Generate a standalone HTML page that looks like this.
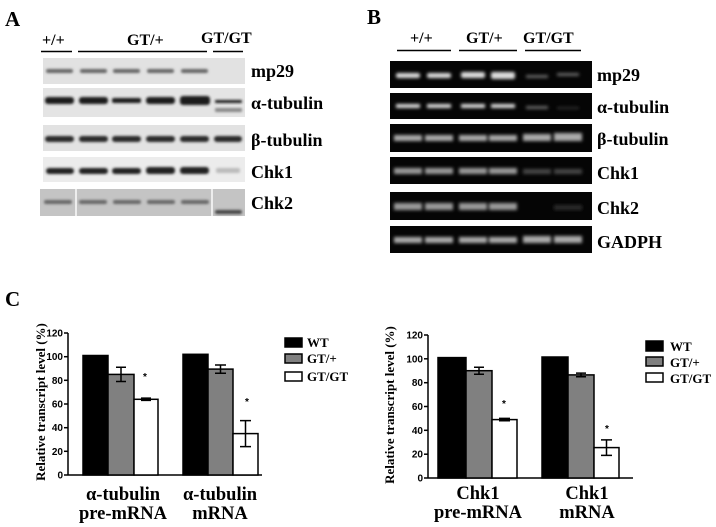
<!DOCTYPE html>
<html><head><meta charset="utf-8"><style>
html,body{margin:0;padding:0;background:#fff;}
svg{display:block;}
.s{font-family:"Liberation Serif",serif;font-weight:bold;fill:#000;}
.a{font-family:"Liberation Sans",sans-serif;font-weight:bold;fill:#000;font-size:10px;}
</style></head><body>
<svg width="716" height="527" viewBox="0 0 716 527" xmlns="http://www.w3.org/2000/svg">
<defs>
<filter id="b1" x="-20%" y="-50%" width="140%" height="200%"><feGaussianBlur stdDeviation="1.2"/></filter>
<filter id="b2" x="-20%" y="-50%" width="140%" height="200%"><feGaussianBlur stdDeviation="1.6"/></filter>
</defs>
<!-- Panel A -->
<text class="s" x="5" y="26" font-size="21">A</text>
<text class="s" x="42" y="45" font-size="16">+/+</text>
<text class="s" x="127" y="45" font-size="16">GT/+</text>
<text class="s" x="201" y="43" font-size="16">GT/GT</text>
<g stroke="#000" stroke-width="1.5"><line x1="41" y1="51.5" x2="72" y2="51.5"/><line x1="78" y1="51.5" x2="207" y2="51.5"/><line x1="213" y1="51.5" x2="243" y2="51.5"/></g>
<rect x="43" y="58" width="202" height="26" fill="#e2e2e2"/>
<rect x="43" y="88" width="202" height="29" fill="#e4e4e4"/>
<rect x="43" y="125" width="202" height="26" fill="#e2e2e2"/>
<rect x="43" y="157" width="202" height="25" fill="#ececec"/>
<rect x="40" y="189" width="205" height="27" fill="#c4c4c4"/>
<g filter="url(#b1)">
<g fill="#666"><rect x="46" y="69" width="27" height="4" rx="2"/><rect x="80" y="69" width="27" height="4" rx="2"/><rect x="113" y="69" width="27" height="4" rx="2"/><rect x="147" y="69" width="27" height="4" rx="2"/><rect x="181" y="69" width="27" height="4" rx="2"/></g>
<g fill="#1a1a1a"><rect x="45" y="97" width="29" height="7" rx="3"/><rect x="79" y="97" width="29" height="7" rx="3"/><rect x="112" y="98" width="29" height="5" rx="2"/><rect x="146" y="97" width="29" height="7" rx="3"/><rect x="180" y="96" width="30" height="9" rx="3"/><rect x="215" y="100" width="27" height="3" rx="1"/></g>
<rect x="215" y="108" width="27" height="4" rx="1" fill="#888"/>
<g fill="#2a2a2a"><rect x="45" y="136" width="29" height="6" rx="3"/><rect x="79" y="136" width="29" height="6" rx="3"/><rect x="112" y="136" width="29" height="6" rx="3"/><rect x="146" y="136" width="29" height="6" rx="3"/><rect x="180" y="136" width="29" height="6" rx="3"/><rect x="214" y="136" width="28" height="6" rx="3"/></g>
<g fill="#222"><rect x="46" y="168" width="28" height="6" rx="3"/><rect x="79" y="168" width="29" height="6" rx="3"/><rect x="112" y="168" width="29" height="6" rx="3"/><rect x="146" y="167" width="29" height="7" rx="3"/><rect x="180" y="167" width="29" height="7" rx="3"/></g>
<rect x="216" y="168" width="24" height="5" rx="2" fill="#bbb"/>
<g fill="#666"><rect x="44" y="200" width="28" height="4" rx="2"/><rect x="79" y="200" width="28" height="4" rx="2"/><rect x="113" y="200" width="28" height="4" rx="2"/><rect x="147" y="200" width="28" height="4" rx="2"/><rect x="181" y="200" width="28" height="4" rx="2"/><rect x="215" y="210" width="27" height="4" rx="2" fill="#444"/></g>
</g>
<g fill="#fff" opacity="0.7"><rect x="75" y="189" width="2" height="27"/><rect x="211" y="189" width="2" height="27"/></g>
<text class="s" x="251" y="77" font-size="18">mp29</text>
<text class="s" x="251" y="109" font-size="18">α-tubulin</text>
<text class="s" x="251" y="146" font-size="18">β-tubulin</text>
<text class="s" x="251" y="178" font-size="18">Chk1</text>
<text class="s" x="251" y="209" font-size="18">Chk2</text>
<!-- Panel B -->
<text class="s" x="367" y="24" font-size="21">B</text>
<text class="s" x="410" y="43" font-size="16">+/+</text>
<text class="s" x="466" y="43" font-size="16">GT/+</text>
<text class="s" x="523" y="43" font-size="16">GT/GT</text>
<g stroke="#000" stroke-width="1.5"><line x1="397" y1="50.5" x2="451" y2="50.5"/><line x1="459" y1="50.5" x2="517" y2="50.5"/><line x1="525" y1="50.5" x2="581" y2="50.5"/></g>
<g fill="#050505"><rect x="390" y="61" width="202" height="27"/><rect x="390" y="93" width="202" height="26"/><rect x="390" y="124" width="202" height="28"/><rect x="390" y="157" width="202" height="27"/><rect x="390" y="192" width="202" height="28"/><rect x="390" y="226" width="202" height="27"/></g>
<g filter="url(#b2)">
<g fill="#ddd"><rect x="396" y="73" width="24" height="5" rx="2"/><rect x="427" y="73" width="24" height="5" rx="2"/><rect x="461" y="72" width="24" height="6" rx="2"/><rect x="491" y="72" width="24" height="7" rx="2"/></g>
<g fill="#666"><rect x="526" y="75" width="22" height="3"/><rect x="557" y="73" width="22" height="3"/></g>
<g fill="#ddd"><rect x="396" y="104" width="24" height="4"/><rect x="427" y="104" width="24" height="4"/><rect x="461" y="104" width="24" height="4"/><rect x="491" y="104" width="24" height="4"/></g>
<g fill="#666"><rect x="526" y="106" width="22" height="3"/></g><rect x="557" y="107" width="22" height="2" fill="#333"/>
<g fill="#aaa"><rect x="394" y="135" width="28" height="6"/><rect x="425" y="135" width="28" height="6"/><rect x="459" y="135" width="28" height="6"/><rect x="489" y="135" width="28" height="6"/><rect x="523" y="134" width="28" height="7"/><rect x="554" y="133" width="28" height="8"/></g>
<g fill="#999"><rect x="394" y="168" width="28" height="6"/><rect x="425" y="168" width="28" height="6"/><rect x="459" y="168" width="28" height="6"/><rect x="489" y="168" width="28" height="6"/></g>
<g fill="#444"><rect x="523" y="169" width="28" height="5"/><rect x="554" y="169" width="28" height="5"/></g>
<g fill="#999"><rect x="394" y="203" width="28" height="7"/><rect x="425" y="203" width="28" height="7"/><rect x="459" y="203" width="28" height="7"/><rect x="489" y="203" width="28" height="7"/></g>
<rect x="554" y="205" width="28" height="5" fill="#2a2a2a"/>
<g fill="#aaa"><rect x="394" y="237" width="28" height="6"/><rect x="425" y="237" width="28" height="6"/><rect x="459" y="237" width="28" height="6"/><rect x="489" y="237" width="28" height="6"/><rect x="523" y="236" width="28" height="7"/><rect x="554" y="236" width="28" height="7"/></g>
</g>
<text class="s" x="597" y="81" font-size="18">mp29</text>
<text class="s" x="597" y="113" font-size="18">α-tubulin</text>
<text class="s" x="597" y="145" font-size="18">β-tubulin</text>
<text class="s" x="597" y="179" font-size="18">Chk1</text>
<text class="s" x="597" y="214" font-size="18">Chk2</text>
<text class="s" x="597" y="248" font-size="18">GADPH</text>
<!-- Panel C -->
<text class="s" x="5" y="306" font-size="21">C</text>
<!-- left chart -->
<g stroke="#000" stroke-width="1.5" fill="none"><line x1="68" y1="333" x2="68" y2="475"/><line x1="68" y1="475" x2="262" y2="475"/>
<line x1="64" y1="475" x2="68" y2="475"/><line x1="64" y1="451.3" x2="68" y2="451.3"/><line x1="64" y1="427.7" x2="68" y2="427.7"/><line x1="64" y1="404" x2="68" y2="404"/><line x1="64" y1="380.3" x2="68" y2="380.3"/><line x1="64" y1="356.7" x2="68" y2="356.7"/><line x1="64" y1="333" x2="68" y2="333"/></g>
<g class="a" text-anchor="end"><text x="63" y="478.5">0</text><text x="63" y="454.8">20</text><text x="63" y="431.2">40</text><text x="63" y="407.5">60</text><text x="63" y="383.8">80</text><text x="63" y="360.2">100</text><text x="63" y="336.5">120</text></g>
<text class="s" font-size="13" transform="translate(45,402) rotate(-90)" text-anchor="middle">Relative transcript level (%)</text>
<g stroke="#000" stroke-width="1.5">
<rect x="83" y="355.5" width="25" height="119.5" fill="#000"/><rect x="108" y="374.4" width="26" height="100.6" fill="#808080"/><rect x="134" y="399.3" width="24" height="75.7" fill="#fff"/>
<rect x="183" y="354.3" width="25" height="120.7" fill="#000"/><rect x="208" y="369.1" width="25" height="105.9" fill="#808080"/><rect x="233" y="433.6" width="25" height="41.4" fill="#fff"/>
<path d="M121 381.5V367.3M116 381.5H126M116 367.3H126M141 400.4H151M141 398.1H151M220.5 373.2V365M215 373.2H226M215 365H226M245.5 446.6V420.6M240 446.6H251M240 420.6H251" fill="none"/>
</g>
<text class="a" x="145" y="380" text-anchor="middle" font-size="14">*</text>
<text class="a" x="247" y="405" text-anchor="middle" font-size="14">*</text>
<g class="s" font-size="18.5" text-anchor="middle"><text x="123" y="500">α-tubulin</text><text x="123" y="519">pre-mRNA</text><text x="220" y="500">α-tubulin</text><text x="220" y="519">mRNA</text></g>
<g stroke="#000" stroke-width="1.5"><rect x="285" y="338" width="17" height="9" fill="#000"/><rect x="285" y="354" width="17" height="9" fill="#808080"/><rect x="285" y="372" width="17" height="9" fill="#fff"/></g>
<g class="s" font-size="13"><text x="307" y="347">WT</text><text x="307" y="363">GT/+</text><text x="307" y="381">GT/GT</text></g>
<!-- right chart -->
<g stroke="#000" stroke-width="1.5" fill="none"><line x1="428" y1="335" x2="428" y2="478"/><line x1="428" y1="478" x2="633" y2="478"/>
<line x1="424" y1="478" x2="428" y2="478"/><line x1="424" y1="454.2" x2="428" y2="454.2"/><line x1="424" y1="430.3" x2="428" y2="430.3"/><line x1="424" y1="406.5" x2="428" y2="406.5"/><line x1="424" y1="382.7" x2="428" y2="382.7"/><line x1="424" y1="358.8" x2="428" y2="358.8"/><line x1="424" y1="335" x2="428" y2="335"/></g>
<g class="a" text-anchor="end"><text x="423" y="481.5">0</text><text x="423" y="457.7">20</text><text x="423" y="433.8">40</text><text x="423" y="410">60</text><text x="423" y="386.2">80</text><text x="423" y="362.3">100</text><text x="423" y="338.5">120</text></g>
<text class="s" font-size="13" transform="translate(394,405) rotate(-90)" text-anchor="middle">Relative transcript level (%)</text>
<g stroke="#000" stroke-width="1.5">
<rect x="438" y="357.6" width="28" height="120.4" fill="#000"/><rect x="466" y="370.7" width="26" height="107.3" fill="#808080"/><rect x="492" y="419.6" width="25" height="58.4" fill="#fff"/>
<rect x="542" y="357" width="26" height="121" fill="#000"/><rect x="568" y="374.9" width="26" height="103.1" fill="#808080"/><rect x="594" y="447.6" width="25" height="30.4" fill="#fff"/>
<path d="M479 374.3V367.2M474 374.3H484M474 367.2H484M499 420.8H510M499 418.4H510M581 376.7V373.1M576 376.7H586M576 373.1H586M606.5 455.4V439.9M601 455.4H612M601 439.9H612" fill="none"/>
</g>
<text class="a" x="504" y="407" text-anchor="middle" font-size="14">*</text>
<text class="a" x="607" y="432" text-anchor="middle" font-size="14">*</text>
<g class="s" font-size="18.5" text-anchor="middle"><text x="478" y="499">Chk1</text><text x="478" y="518">pre-mRNA</text><text x="587" y="499">Chk1</text><text x="587" y="518">mRNA</text></g>
<g stroke="#000" stroke-width="1.5"><rect x="646" y="341" width="17" height="10" fill="#000"/><rect x="646" y="357" width="17" height="9" fill="#808080"/><rect x="646" y="373" width="17" height="9" fill="#fff"/></g>
<g class="s" font-size="13"><text x="670" y="351">WT</text><text x="670" y="367">GT/+</text><text x="670" y="383">GT/GT</text></g>
</svg>
</body></html>
